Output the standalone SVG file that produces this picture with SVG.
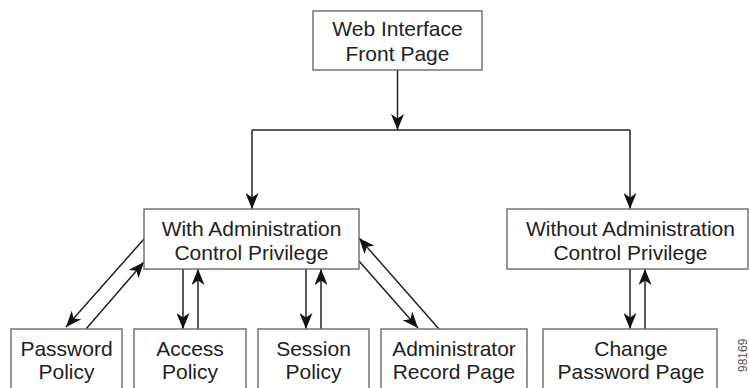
<svg xmlns="http://www.w3.org/2000/svg" width="749" height="388" viewBox="0 0 749 388">
<style>
.box{fill:#fff;stroke:#6a6a6a;stroke-width:1.4}
.lbl{font-family:"Liberation Sans",Arial,sans-serif;font-size:21px;fill:#222;text-anchor:middle}
.cn{fill:none;stroke:#222;stroke-width:1.5;marker-end:url(#ah)}
.ln{fill:none;stroke:#222;stroke-width:1.5}
.fig{font-family:"Liberation Sans",Arial,sans-serif;font-size:12px;fill:#555}
</style>
<defs>
<marker id="ah" markerUnits="userSpaceOnUse" markerWidth="16" markerHeight="13" viewBox="0 0 16 13" refX="16" refY="6.5" orient="auto">
<path d="M0,0 L16,6.5 L0,13 L4.5,6.5 Z" fill="#111"/>
</marker>
</defs>
<g id="connectors">
<path class="cn" d="M397.5,70 V130"/>
<path class="ln" d="M252,130 H630"/>
<path class="cn" d="M252,130 V209"/>
<path class="cn" d="M630,130 V209"/>
<path class="cn" d="M144,239 L66,327"/>
<path class="cn" d="M86,329 L144,262"/>
<path class="cn" d="M183,269 V329"/>
<path class="cn" d="M198,329 V269"/>
<path class="cn" d="M306,269 V329"/>
<path class="cn" d="M321,329 V269"/>
<path class="cn" d="M359,261 L418,328"/>
<path class="cn" d="M439,329 L359,238"/>
<path class="cn" d="M630,269 V329"/>
<path class="cn" d="M645,329 V269"/>
</g>
<g id="front-page">
<rect class="box" x="313" y="11" width="169" height="59"/>
<text class="lbl" x="397.5" y="36">Web Interface</text>
<text class="lbl" x="397.5" y="60.5">Front Page</text>
</g>
<g id="with-admin">
<rect class="box" x="144" y="209" width="215" height="60"/>
<text class="lbl" x="251.5" y="235.5">With Administration</text>
<text class="lbl" x="251.5" y="260">Control Privilege</text>
</g>
<g id="without-admin">
<rect class="box" x="507" y="209" width="241" height="60"/>
<text class="lbl" x="630.5" y="235.5">Without Administration</text>
<text class="lbl" x="630.5" y="260">Control Privilege</text>
</g>
<g id="password-policy">
<rect class="box" x="11" y="329" width="111" height="70"/>
<text class="lbl" x="66.5" y="355.5">Password</text>
<text class="lbl" x="66.5" y="378.5">Policy</text>
</g>
<g id="access-policy">
<rect class="box" x="134" y="329" width="112" height="70"/>
<text class="lbl" x="190" y="355.5">Access</text>
<text class="lbl" x="190" y="378.5">Policy</text>
</g>
<g id="session-policy">
<rect class="box" x="258" y="329" width="111" height="70"/>
<text class="lbl" x="313.5" y="355.5">Session</text>
<text class="lbl" x="313.5" y="378.5">Policy</text>
</g>
<g id="admin-record">
<rect class="box" x="381" y="329" width="146" height="70"/>
<text class="lbl" x="454" y="355.5">Administrator</text>
<text class="lbl" x="454" y="378.5">Record Page</text>
</g>
<g id="change-password">
<rect class="box" x="543" y="329" width="174" height="70"/>
<text class="lbl" x="631" y="355.5">Change</text>
<text class="lbl" x="631" y="378.5">Password Page</text>
</g>
<text class="fig" transform="translate(747,388) rotate(-90)" x="16" y="0">98169</text>
</svg>
